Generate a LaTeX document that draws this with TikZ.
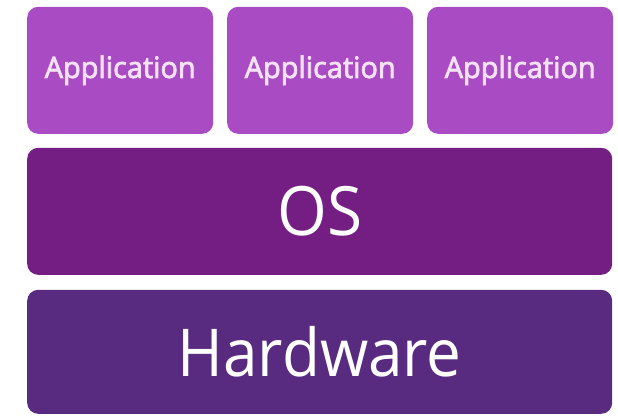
\documentclass[tikz,border=0pt]{standalone}
\usepackage{fontspec}
\setmainfont{Open Sans}
\newfontfamily\layerfont{Open Sans}[FakeStretch=0.94]
\newfontfamily\appfont{Open Sans}[FakeBold=2.5, FakeStretch=0.98]
\definecolor{appfill}{HTML}{A94CC4}
\definecolor{osfill}{HTML}{741E84}
\definecolor{hwfill}{HTML}{582A80}
\definecolor{apptext}{HTML}{F6E2F6}
\begin{document}
\begin{tikzpicture}[x=1pt,y=1pt,
  layer/.style={rounded corners=11pt, inner sep=0pt, anchor=south west},
  appbox/.style={layer, fill=appfill, minimum width=186pt, minimum height=127pt,
    text=apptext, font=\appfont\fontsize{29.5}{32}\selectfont},
  osbox/.style={layer, fill=osfill, minimum width=585pt, minimum height=127pt,
    text=white, font=\layerfont\fontsize{68}{72}\selectfont},
  hwbox/.style={layer, fill=hwfill, minimum width=585pt, minimum height=124pt,
    text=white, font=\layerfont\fontsize{66}{70}\selectfont}]
\useasboundingbox (0,0) rectangle (618,415);
% application row
\node[appbox] (app1) at (27,281) {Application};
\node[appbox] (app2) at (227,281) {Application};
\node[appbox] (app3) at (427,281) {Application};
% operating system layer
\node[osbox] (os) at (27,140) {OS};
% hardware layer
\node[hwbox] (hw) at (27,1) {Hardware};
\end{tikzpicture}
\end{document}
